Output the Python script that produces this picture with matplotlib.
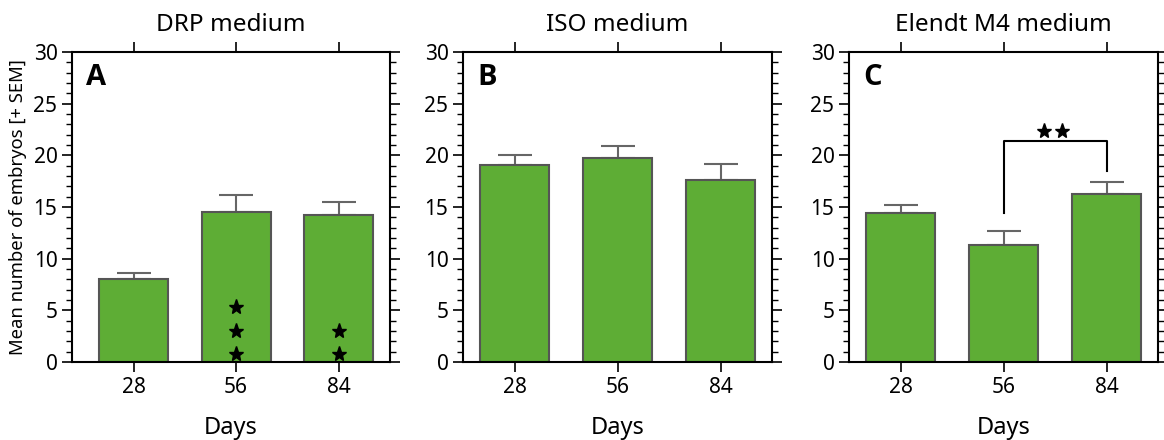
import numpy as np
import matplotlib
matplotlib.use("Agg")
from matplotlib import pyplot as plt
from matplotlib.ticker import MultipleLocator

plt.rcParams['font.family'] = ['Noto Sans', 'DejaVu Sans']

days = ["28", "56", "84"]
titles = ["DRP medium", "ISO medium", "Elendt M4 medium"]
letters = ["A", "B", "C"]

# mean embryos and SEM per medium
means = [
    [8.0, 14.55, 14.25],
    [19.05, 19.75, 17.6],
    [14.45, 11.3, 16.3],
]
sems = [
    [0.65, 1.65, 1.2],
    [0.95, 1.2, 1.55],
    [0.75, 1.35, 1.1],
]

# significance stars inside bars of panel A (x index, y)
stars_a_x = [1, 1, 1, 2, 2]
stars_a_y = [5.3, 3.0, 0.8, 3.0, 0.8]

# bracket for panel C
bracket_x = [1, 2]
bracket_y = 21.4
bracket_left_bottom = 14.4
bracket_right_bottom = 18.45

GREEN = "#5EAD35"
EDGE = "#555555"

fig = plt.figure(figsize=(11.64, 4.4), dpi=100)
positions = [
    [0.0619, 0.1773, 0.2732, 0.7045],
    [0.3978, 0.1773, 0.2655, 0.7045],
    [0.7294, 0.1773, 0.2655, 0.7045],
]

for i in range(3):
    ax = fig.add_axes(positions[i])
    x = np.arange(3)
    ax.bar(x, means[i], width=0.67, color=GREEN, edgecolor=EDGE, linewidth=1.5, zorder=2)
    ax.errorbar(x, means[i], yerr=[np.zeros(3), sems[i]], fmt="none", ecolor="#666666",
                elinewidth=1.5, capsize=12.5, capthick=1.5, zorder=1)
    ax.set_ylim(0, 30)
    if i == 0:
        ax.set_xlim(-0.6, 2.5)
    else:
        ax.set_xlim(-0.5, 2.5)
    ax.set_xticks(x)
    ax.set_xticklabels(days)
    ax.yaxis.set_major_locator(MultipleLocator(5))
    ax.yaxis.set_minor_locator(MultipleLocator(1))
    ax.tick_params(axis="both", which="major", direction="out", length=7.5, width=1.2,
                   labelsize=15, top=True, right=True, pad=3)
    ax.tick_params(axis="y", which="minor", direction="out", length=4, width=1.0, right=True)
    ax.tick_params(axis="x", which="minor", bottom=False, top=False)
    for sp in ax.spines.values():
        sp.set_linewidth(1.5)
    ax.set_title(titles[i], fontsize=17.5, pad=15)
    ax.set_xlabel("Days", fontsize=17, labelpad=13)
    ax.text(0.045, 0.965, letters[i], transform=ax.transAxes, fontsize=21,
            fontweight="bold", family=["Open Sans", "DejaVu Sans"], va="top", ha="left")
    if i == 0:
        ax.set_ylabel("Mean number of embryos [+ SEM]", fontsize=13.3, labelpad=5)
        ax.plot(stars_a_x, stars_a_y, linestyle="none", marker="*", markersize=11,
                color="black", zorder=3)
    if i == 2:
        ax.plot([bracket_x[0], bracket_x[0], bracket_x[1], bracket_x[1]],
                [bracket_left_bottom, bracket_y, bracket_y, bracket_right_bottom],
                color="black", linewidth=1.5, zorder=3)
        mid = (bracket_x[0] + bracket_x[1]) / 2
        ax.plot([mid - 0.11, mid + 0.07], [bracket_y + 1.0, bracket_y + 1.0],
                linestyle="none", marker="*", markersize=11, color="black")

fig.savefig("out.png", dpi=100)
